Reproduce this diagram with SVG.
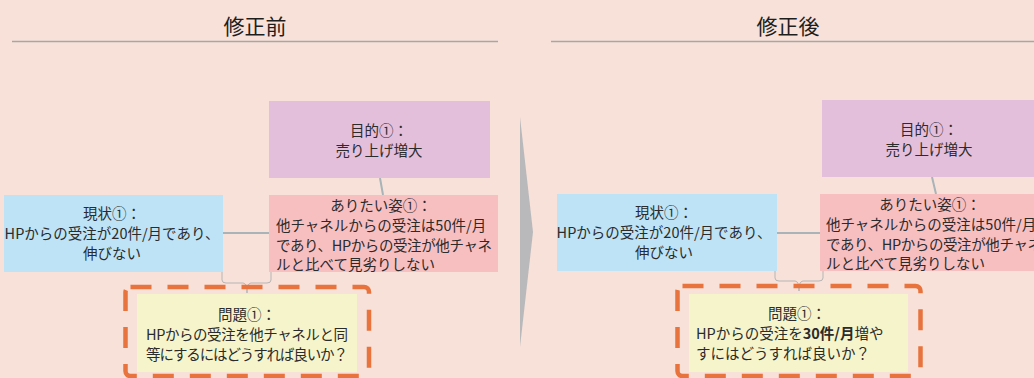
<svg xmlns="http://www.w3.org/2000/svg" width="1034" height="378" viewBox="0 0 1034 378">
<style>
text{font-family:"Noto Sans CJK JP","Noto Sans",sans-serif;fill:#2b2b2b;font-size:14.5px}
.title{font-size:21px;fill:#1e1e1e;text-anchor:middle}
.c{text-anchor:middle}
.goal{fill:#E4BFDC}
.ideal{fill:#F8BFC1}
.now{fill:#BEE3F6}
.prob{fill:#F6F4CB}
.dash{fill:none;stroke:#E8733C;stroke-width:4.5;stroke-dasharray:21 16}
.conn{stroke:#A8B4B8;stroke-width:2;fill:none}
.brace{stroke:#B5B5B5;stroke-width:1;fill:none}
.rule{stroke:#A6A6A6;stroke-width:1.5}
</style>
<rect width="1034" height="378" fill="#F8E1D9"/>

<g id="header-before">
<text class="title" x="255" y="34">修正前</text>
<line class="rule" x1="12" y1="41.5" x2="498" y2="41.5"/>
</g>
<g id="header-after">
<text class="title" x="788" y="34">修正後</text>
<line class="rule" x1="551" y1="41.5" x2="1034" y2="41.5"/>
</g>

<g id="transition-arrow">
<polygon points="520,117 533,232 520,347" fill="#B9B9BB"/>
</g>

<g id="connectors">
<line class="conn" x1="380" y1="178" x2="383" y2="195"/>
<line class="conn" x1="223" y1="233" x2="269" y2="233"/>
<path class="brace" d="M222,271 V280 Q222,283 226,283 H243 Q247,283 247,293 Q247,283 251,283 H267 Q271,283 271,280 V271"/>
<line class="conn" x1="932" y1="177" x2="936" y2="194"/>
<line class="conn" x1="777" y1="233" x2="820" y2="233"/>
<path class="brace" d="M775,270 V278 Q775,281 779,281 H795 Q799,281 799,291 Q799,281 803,281 H819 Q823,281 823,278 V270"/>
</g>

<g id="before-goal">
<rect class="goal" x="269" y="101" width="221" height="77"/>
<text class="c" x="379" y="136">目的①：</text>
<text class="c" x="379" y="156">売り上げ増大</text>
</g>
<g id="before-ideal">
<rect class="ideal" x="269" y="195" width="229" height="77"/>
<text class="c" x="381" y="211">ありたい姿①：</text>
<text x="276" y="231">他チャネルからの受注は50件/月</text>
<text x="276" y="251" textLength="216" lengthAdjust="spacing">であり、HPからの受注が他チャネ</text>
<text x="276" y="270">ルと比べて見劣りしない</text>
</g>
<g id="before-current">
<rect class="now" x="4" y="195" width="219" height="77"/>
<text class="c" x="112" y="219">現状①：</text>
<text class="c" x="112" y="239">HPからの受注が20件/月であり、</text>
<text class="c" x="112" y="259">伸びない</text>
</g>
<g id="before-problem">
<rect class="prob" x="137" y="294" width="220" height="78"/>
<rect class="dash" x="125.5" y="287" width="243.5" height="89" rx="5"/>
<text class="c" x="247" y="320">問題①：</text>
<text x="146" y="340" textLength="202" lengthAdjust="spacing">HPからの受注を他チャネルと同</text>
<text x="146" y="360" textLength="202" lengthAdjust="spacing">等にするにはどうすれば良いか？</text>
</g>

<g id="after-goal">
<rect class="goal" x="822" y="100" width="225" height="77"/>
<text class="c" x="929" y="135">目的①：</text>
<text class="c" x="929" y="155">売り上げ増大</text>
</g>
<g id="after-ideal">
<rect class="ideal" x="820" y="194" width="240" height="77"/>
<text class="c" x="930" y="210">ありたい姿①：</text>
<text x="826" y="230">他チャネルからの受注は50件/月</text>
<text x="826" y="250" textLength="216" lengthAdjust="spacing">であり、HPからの受注が他チャネ</text>
<text x="826" y="269">ルと比べて見劣りしない</text>
</g>
<g id="after-current">
<rect class="now" x="557" y="194" width="220" height="77"/>
<text class="c" x="664" y="218">現状①：</text>
<text class="c" x="664" y="238">HPからの受注が20件/月であり、</text>
<text class="c" x="664" y="258">伸びない</text>
</g>
<g id="after-problem">
<rect class="prob" x="689" y="294" width="219" height="78"/>
<rect class="dash" x="677.5" y="286" width="243" height="90" rx="5"/>
<text class="c" x="797" y="319">問題①：</text>
<text x="696" y="339">HPからの受注を<tspan font-weight="bold">30件/月</tspan>増や</text>
<text x="696" y="359">すにはどうすれば良いか？</text>
</g>
</svg>
